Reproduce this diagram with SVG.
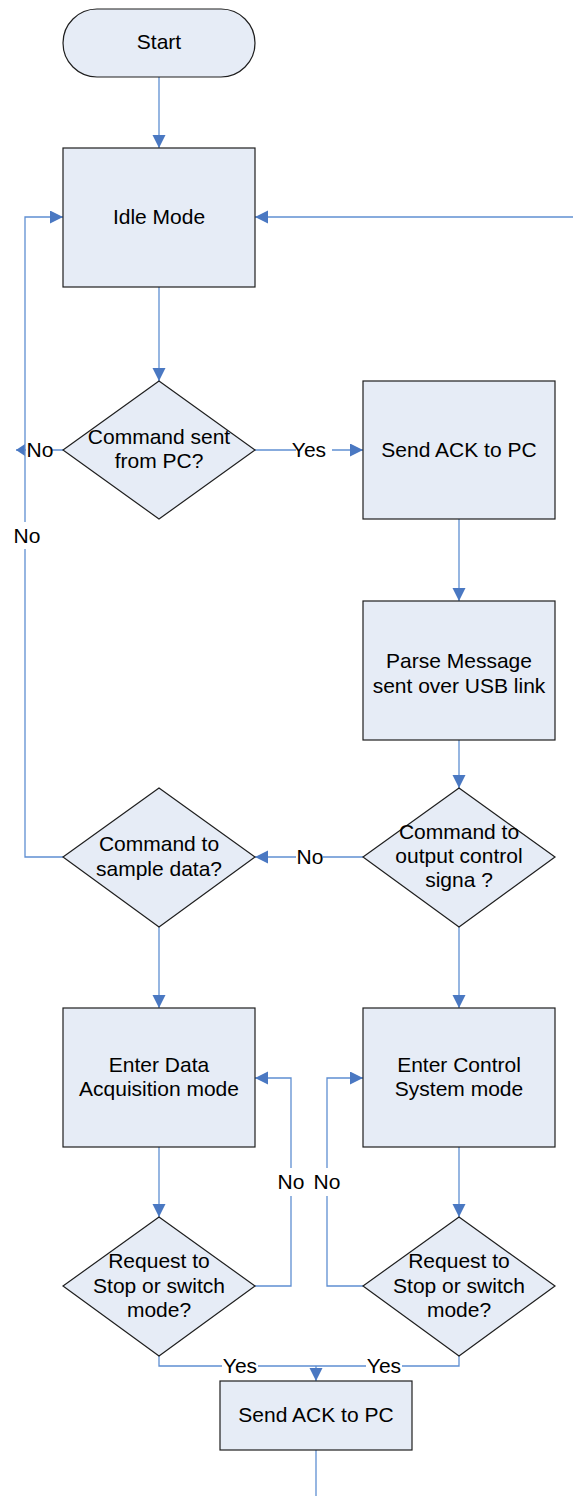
<svg xmlns="http://www.w3.org/2000/svg" width="573" height="1496" viewBox="0 0 573 1496">
  <defs>
    <marker id="arrow" markerUnits="userSpaceOnUse" markerWidth="14" markerHeight="14" refX="13" refY="6.5" orient="auto">
      <path d="M0,0 L13,6.5 L0,13 z" fill="#4a78c2"/>
    </marker>
    <marker id="arrowSmall" markerUnits="userSpaceOnUse" markerWidth="10" markerHeight="12" refX="9" refY="6" orient="auto">
      <path d="M0,0 L9,6 L0,12 z" fill="#4a78c2"/>
    </marker>
    <style>
      .shape { fill: #e6ecf6; stroke: #1e1e1e; stroke-width: 1.2; }
      .txt { font-family: "Liberation Sans", Arial, sans-serif; font-size: 21px; fill: #000; text-anchor: middle; }
      .conn { fill: none; stroke: #5f8fd2; stroke-width: 1.3; }
      .lblbg { fill: #ffffff; }
    </style>
  </defs>
  <rect width="573" height="1496" fill="#ffffff"/>

  <!-- connectors -->
  <g id="connectors">
    <path class="conn" d="M159,77 V148" marker-end="url(#arrow)"/>
    <path class="conn" d="M159,287 V381" marker-end="url(#arrow)"/>
    <path class="conn" d="M255,450 H363" marker-end="url(#arrow)"/>
    <path class="conn" d="M63,450 H16" marker-end="url(#arrowSmall)"/>
    <path class="conn" d="M459,519 V601" marker-end="url(#arrow)"/>
    <path class="conn" d="M459,740 V788" marker-end="url(#arrow)"/>
    <path class="conn" d="M363,857 H255" marker-end="url(#arrow)"/>
    <path class="conn" d="M63,857 H25 V217 H63" marker-end="url(#arrow)"/>
    <path class="conn" d="M573,217 H255" marker-end="url(#arrow)"/>
    <path class="conn" d="M159,927 V1008" marker-end="url(#arrow)"/>
    <path class="conn" d="M459,927 V1008" marker-end="url(#arrow)"/>
    <path class="conn" d="M159,1147 V1217" marker-end="url(#arrow)"/>
    <path class="conn" d="M459,1147 V1217" marker-end="url(#arrow)"/>
    <path class="conn" d="M255,1286 H291 V1078 H255" marker-end="url(#arrow)"/>
    <path class="conn" d="M363,1286 H327 V1078 H363" marker-end="url(#arrow)"/>
    <path class="conn" d="M159,1356 V1366 H316"/>
    <path class="conn" d="M459,1356 V1366 H316"/>
    <path class="conn" d="M316,1366 V1381" marker-end="url(#arrow)"/>
    <path class="conn" d="M316,1450 V1496"/>

    <!-- connector labels -->
    <g id="labels">
      <rect class="lblbg" x="296" y="439" width="36" height="22"/>
      <text class="txt" x="309" y="457">Yes</text>
      <rect class="lblbg" x="26" y="439" width="26" height="22"/>
      <text class="txt" x="40" y="457">No</text>
      <rect class="lblbg" x="13" y="522" width="27" height="27"/>
      <text class="txt" x="27" y="543">No</text>
      <rect class="lblbg" x="296" y="846" width="27" height="22"/>
      <text class="txt" x="310" y="864">No</text>
      <rect class="lblbg" x="278" y="1168" width="27" height="28"/>
      <text class="txt" x="291" y="1189">No</text>
      <rect class="lblbg" x="314" y="1168" width="27" height="28"/>
      <text class="txt" x="327" y="1189">No</text>
      <rect class="lblbg" x="222" y="1356" width="36" height="20"/>
      <text class="txt" x="240" y="1373">Yes</text>
      <rect class="lblbg" x="366" y="1356" width="36" height="20"/>
      <text class="txt" x="384" y="1373">Yes</text>
    </g>
  </g>

  <!-- nodes -->
  <g id="start">
    <rect class="shape" x="63" y="9" width="192" height="68" rx="34" ry="34"/>
    <text class="txt" x="159" y="49">Start</text>
  </g>
  <g id="idle-mode">
    <rect class="shape" x="63" y="148" width="192" height="139"/>
    <text class="txt" x="159" y="224">Idle Mode</text>
  </g>
  <g id="command-sent">
    <polygon class="shape" points="159,381 255,450 159,519 63,450"/>
    <text class="txt" x="159" y="444">Command sent</text>
    <text class="txt" x="159" y="468">from PC?</text>
  </g>
  <g id="send-ack-1">
    <rect class="shape" x="363" y="381" width="192" height="138"/>
    <text class="txt" x="459" y="457">Send ACK to PC</text>
  </g>
  <g id="parse-message">
    <rect class="shape" x="363" y="601" width="192" height="139"/>
    <text class="txt" x="459" y="668">Parse Message</text>
    <text class="txt" x="459" y="693">sent over USB link</text>
  </g>
  <g id="output-control">
    <polygon class="shape" points="459,788 555,857 459,927 363,857"/>
    <text class="txt" x="459" y="839">Command to</text>
    <text class="txt" x="459" y="863">output control</text>
    <text class="txt" x="459" y="887">signa ?</text>
  </g>
  <g id="sample-data">
    <polygon class="shape" points="159,788 255,857 159,927 63,857"/>
    <text class="txt" x="159" y="851">Command to</text>
    <text class="txt" x="159" y="876">sample data?</text>
  </g>
  <g id="data-acquisition">
    <rect class="shape" x="63" y="1008" width="192" height="139"/>
    <text class="txt" x="159" y="1072">Enter Data</text>
    <text class="txt" x="159" y="1096">Acquisition mode</text>
  </g>
  <g id="control-system">
    <rect class="shape" x="363" y="1008" width="192" height="139"/>
    <text class="txt" x="459" y="1072">Enter Control</text>
    <text class="txt" x="459" y="1096">System mode</text>
  </g>
  <g id="request-stop-left">
    <polygon class="shape" points="159,1217 255,1286 159,1356 63,1286"/>
    <text class="txt" x="159" y="1268">Request to</text>
    <text class="txt" x="159" y="1293">Stop or switch</text>
    <text class="txt" x="159" y="1317">mode?</text>
  </g>
  <g id="request-stop-right">
    <polygon class="shape" points="459,1217 555,1286 459,1356 363,1286"/>
    <text class="txt" x="459" y="1268">Request to</text>
    <text class="txt" x="459" y="1293">Stop or switch</text>
    <text class="txt" x="459" y="1317">mode?</text>
  </g>
  <g id="send-ack-2">
    <rect class="shape" x="220" y="1381" width="192" height="69"/>
    <text class="txt" x="316" y="1422">Send ACK to PC</text>
  </g>
</svg>
